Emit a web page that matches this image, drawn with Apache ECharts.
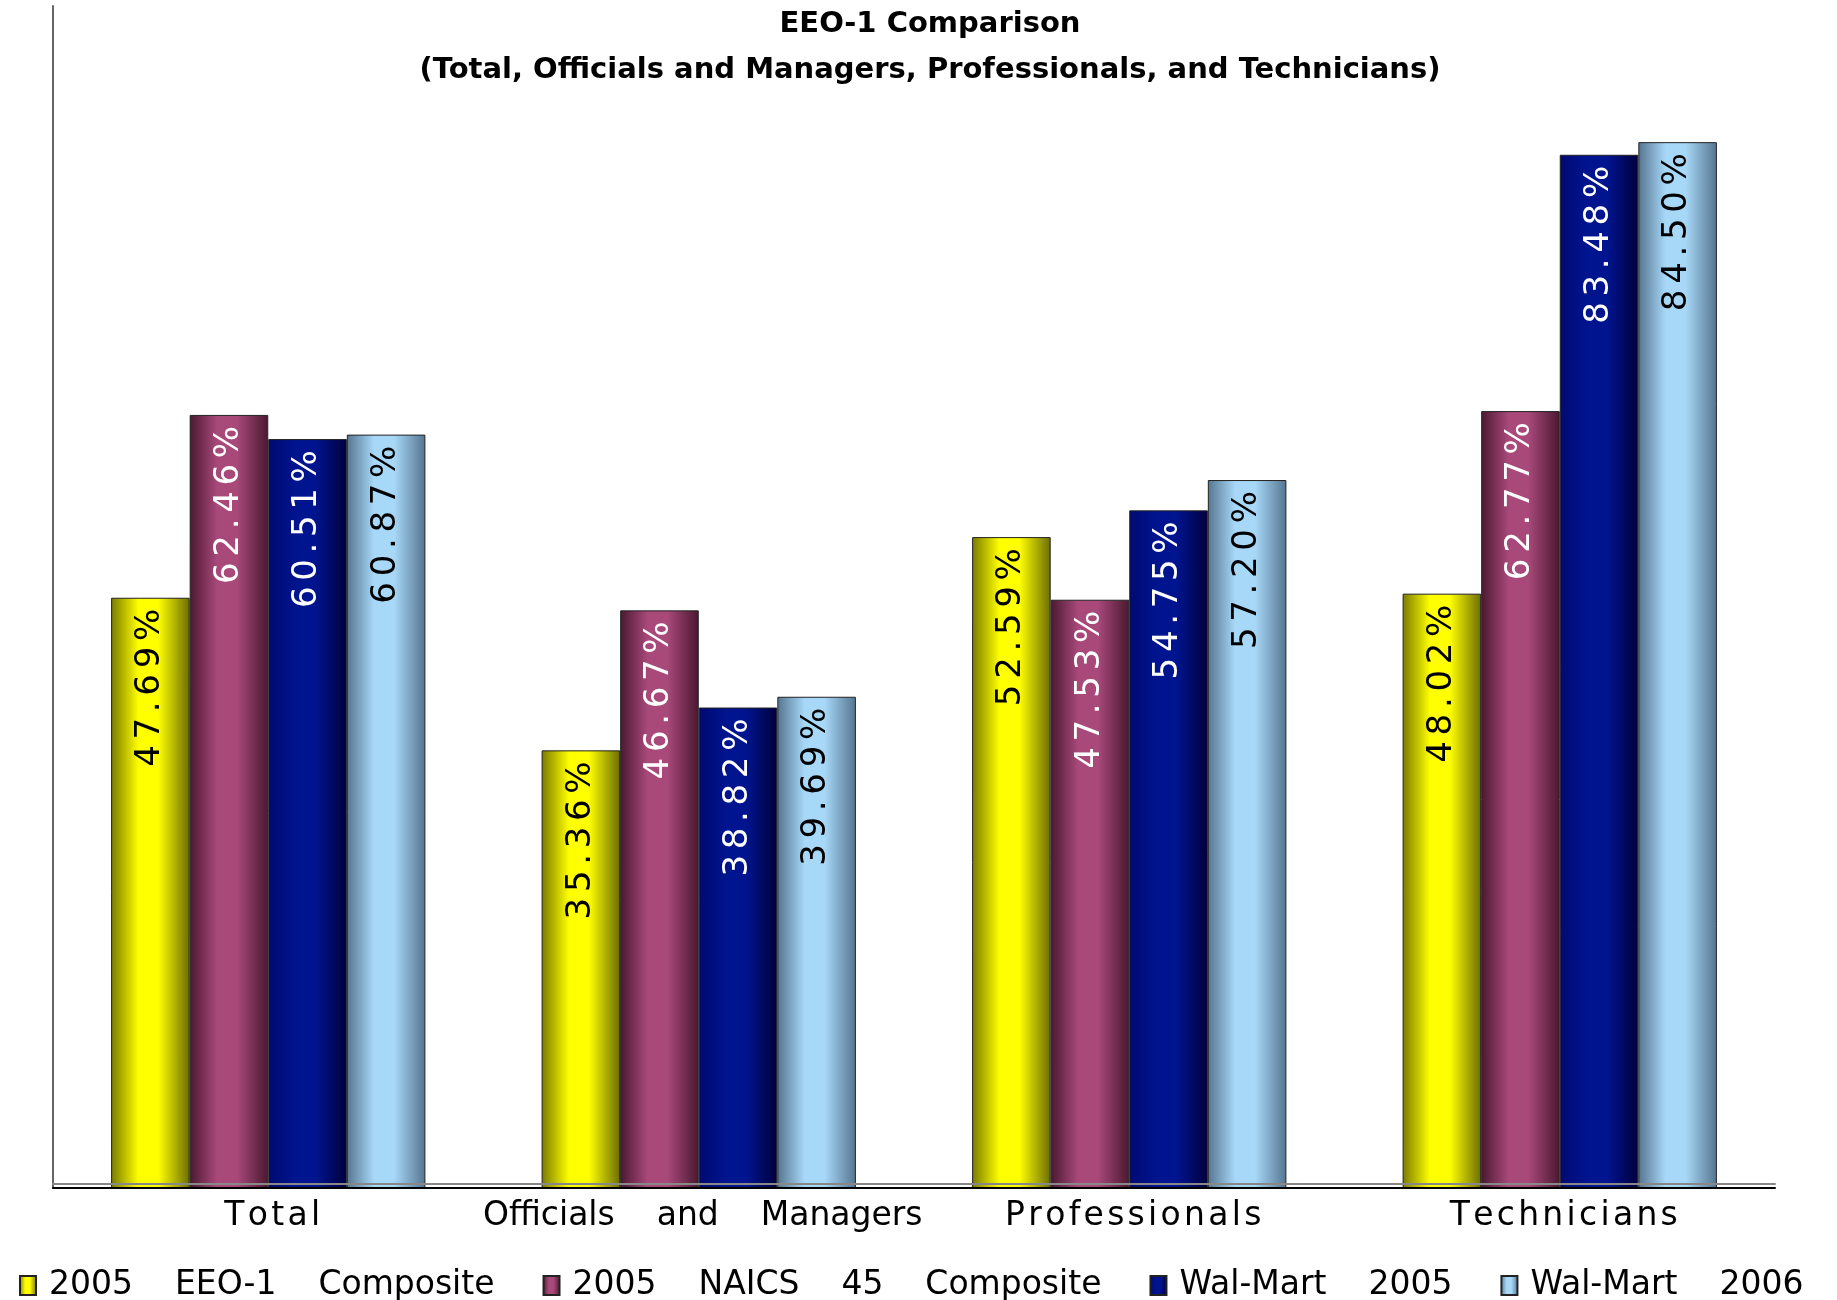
<!DOCTYPE html>
<html>
<head>
    <meta charset="utf-8">
    <title>EEO-1 Comparison</title>
    <script src="https://cdn.jsdelivr.net/npm/echarts@6/dist/echarts.min.js"></script>
    <style>
        html, body { margin: 0; padding: 0; background: #ffffff; }
        #chart { width: 1837px; height: 1300px; }
    </style>
</head>
<body>
<div id="chart"></div>
<script>
    // data
    var categories = ['Total', 'Officials and Managers', 'Professionals', 'Technicians'];
    var seriesNames = ['2005 EEO-1 Composite', '2005 NAICS 45 Composite', 'Wal-Mart 2005', 'Wal-Mart 2006'];
    var eeo2005 = [47.69, 35.36, 52.59, 48.02];
    var naics2005 = [62.46, 46.67, 47.53, 62.77];
    var walmart2005 = [60.51, 38.82, 54.75, 83.48];
    var walmart2006 = [60.87, 39.69, 57.20, 84.50];

    var HAIR = '\u200A';
    var SIXTH = '\u2006';
    // 单词标签拉开字距, 多词标签只拉开词距
    function spaced(s) {
        var words = s.split(' ');
        if (words.length > 1) {
            return words.join('    ');
        }
        return s.split('').join(HAIR);
    }

    // 浅色立体渐变
    function grad(edgeL, mid, edgeR) {
        return new echarts.graphic.LinearGradient(0, 0, 1, 0, [
            {offset: 0, color: edgeL},
            {offset: 0.35, color: mid},
            {offset: 0.6, color: mid},
            {offset: 1, color: edgeR}
        ]);
    }

    var styles = [
        {color: grad('#7a7a00', '#ffff00', '#6c6c00'), text: '#000000'},
        {color: grad('#4a1830', '#a8497a', '#4a1830'), text: '#ffffff'},
        {color: grad('#000a70', '#00148f', '#00003c'), text: '#ffffff'},
        {color: grad('#557590', '#a8d8f8', '#557590'), text: '#000000'}
    ];
    var allData = [eeo2005, naics2005, walmart2005, walmart2006];

    var series = allData.map(function (d, i) {
        return {
            name: seriesNames[i],
            type: 'bar',
            data: d,
            barGap: 0,
            barCategoryGap: '27%',
            itemStyle: {
                color: styles[i].color,
                borderColor: '#222222',
                borderWidth: 1
            },
            label: {
                show: true,
                position: 'insideTop',
                rotate: 90,
                align: 'right',
                verticalAlign: 'middle',
                distance: 11,
                color: styles[i].text,
                fontFamily: 'DejaVu Sans',
                fontSize: 34,
                formatter: function (p) {
                    return (p.value.toFixed(2) + '%').split('').join(SIXTH);
                }
            }
        };
    });

    var chart = echarts.init(document.getElementById('chart'));
    chart.setOption({
        backgroundColor: '#ffffff',
        animation: false,
        title: {
            text: 'EEO-1 Comparison\n(Total, Officials and Managers, Professionals, and Technicians)',
            left: 925,
            textAlign: 'center',
            top: -4,
            textStyle: {
                fontFamily: 'DejaVu Sans',
                fontWeight: 'bold',
                fontSize: 29,
                lineHeight: 46,
                color: '#000000'
            }
        },
        legend: {
            left: 14,
            top: 1264,
            itemWidth: 16,
            itemHeight: 19,
            itemGap: 48,
            icon: 'rect',
            data: seriesNames,
            formatter: function (name) {
                return name.split(' ').join('    ');
            },
            textStyle: {
                fontFamily: 'DejaVu Sans',
                fontSize: 33,
                color: '#000000',
                padding: [0, 0, 0, 8]
            }
        },
        grid: {
            left: 53,
            right: 62,
            top: 6,
            bottom: 112
        },
        xAxis: [
            {
                type: 'category',
                data: categories,
                axisTick: {show: false},
                axisLine: {lineStyle: {color: '#000000', width: 2}},
                axisLabel: {
                    interval: 0,
                    margin: 12,
                    padding: [0, 0, 0, 8],
                    fontFamily: 'DejaVu Sans',
                    fontSize: 33,
                    color: '#000000',
                    formatter: spaced
                },
                z: 5
            },
            {
                type: 'category',
                data: categories,
                position: 'bottom',
                offset: -4,
                axisTick: {show: false},
                axisLabel: {show: false},
                axisLine: {lineStyle: {color: '#888888', width: 2}},
                z: 5
            }
        ],
        yAxis: {
            type: 'value',
            min: 0,
            max: 95.5,
            axisLine: {show: true, lineStyle: {color: '#666666', width: 2}},
            axisTick: {show: false},
            axisLabel: {show: false},
            splitLine: {show: false}
        },
        series: series
    });

    window.onresize = function () {
        chart.resize();
    };
</script>
</body>
</html>
